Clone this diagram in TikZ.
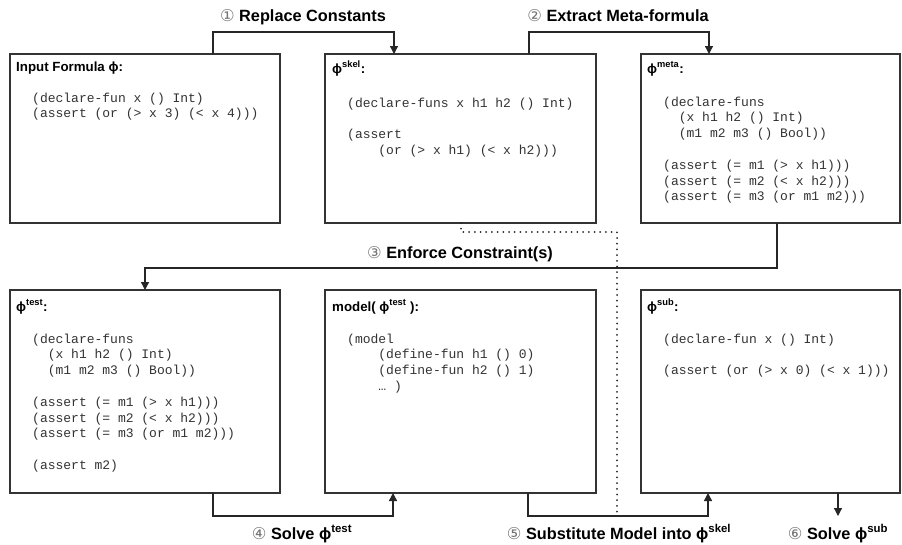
\documentclass[tikz,border=0pt]{standalone}
\usepackage{fontspec}
\setmainfont{Liberation Sans}
\newfontfamily\codefont{Liberation Mono}
\newfontfamily\circfont{DejaVu Sans}
\usetikzlibrary{arrows.meta}
\newcommand{\circnum}[1]{{\circfont\mdseries\color{black!55}#1}}
\newcommand{\supr}[1]{\textsuperscript{#1}}
\newcommand{\spc}[1]{\hphantom{#1}}
\newcommand{\cblock}[1]{\begin{tabular}[t]{@{}l@{}}#1\end{tabular}}
\tikzset{
  box/.style={draw=black!80, line width=1.6pt, anchor=north west, inner sep=0pt, outer sep=0pt},
  head/.style={anchor=base west, inner sep=0pt, font=\bfseries\fontsize{13.3}{16}\selectfont},
  code/.style={anchor=base west, inner sep=0pt, text=black!80, font=\codefont\fontsize{13}{15.8}\selectfont},
  lab/.style={anchor=base, inner sep=0pt, font=\bfseries\fontsize{16.3}{19}\selectfont},
  conn/.style={draw=black!85, line width=1.3pt},
  arr/.style={conn, -{Triangle[length=8pt,width=8pt]}},
  dotline/.style={draw=black!85, line width=2pt, line cap=round, dash pattern=on 0pt off 5.7pt},
}
\begin{document}
\begin{tikzpicture}[x=1pt, y=-1pt]
\fill[white] (0,0) rectangle (902,544);
\useasboundingbox (0,0) rectangle (902,544);

% boxes
\node[box, minimum width=270pt, minimum height=169pt] (in) at (10,54) {};
\node[box, minimum width=271pt, minimum height=169pt] (skel) at (325,54) {};
\node[box, minimum width=259pt, minimum height=169pt] (meta) at (641,54) {};
\node[box, minimum width=270pt, minimum height=203pt] (test) at (10,290) {};
\node[box, minimum width=271pt, minimum height=203pt] (model) at (325,290) {};
\node[box, minimum width=259pt, minimum height=203pt] (sub) at (641,290) {};

% headings
\node[head] (hin) at (16,71) {Input Formula ϕ:};
\node[head] (hskel) at (332,73) {ϕ\supr{skel}:};
\node[head] (hmeta) at (647,73) {ϕ\supr{meta}:};
\node[head] (htest) at (16,311) {ϕ\supr{test}:};
\node[head] (hmodel) at (332,311) {model( ϕ\supr{test} ):};
\node[head] (hsub) at (647,311) {ϕ\supr{sub}:};

% code
\node[code] (cin) at (32,102) {\cblock{(declare-fun x () Int)\\
(assert (or (> x 3) (< x 4)))}};
\node[code] (cskel) at (347,107) {\cblock{(declare-funs x h1 h2 () Int)\\[15.8pt]
(assert\\
\spc{xxxx}(or (> x h1) (< x h2)))}};
\node[code] (cmeta) at (663,106) {\cblock{(declare-funs\\
\spc{xx}(x h1 h2 () Int)\\
\spc{xx}(m1 m2 m3 () Bool))\\[15.8pt]
(assert (= m1 (> x h1)))\\
(assert (= m2 (< x h2)))\\
(assert (= m3 (or m1 m2)))}};
\node[code] (ctest) at (32,343) {\cblock{(declare-funs\\
\spc{xx}(x h1 h2 () Int)\\
\spc{xx}(m1 m2 m3 () Bool))\\[15.8pt]
(assert (= m1 (> x h1)))\\
(assert (= m2 (< x h2)))\\
(assert (= m3 (or m1 m2)))\\[15.8pt]
(assert m2)}};
\node[code] (cmodel) at (347,343) {\cblock{(model\\
\spc{xxxx}(define-fun h1 () 0)\\
\spc{xxxx}(define-fun h2 () 1)\\
\spc{xxxx}… )}};
\node[code] (csub) at (663,343) {\cblock{(declare-fun x () Int)\\[15.8pt]
(assert (or (> x 0) (< x 1)))}};

% connectors
\draw[arr] ([xshift=203pt]in.north west) -- ++(0,-22) -| ([xshift=69pt]skel.north west);
\draw[arr] ([xshift=204pt]skel.north west) -- ++(0,-22) -| ([xshift=68pt]meta.north west);
\draw[arr] ([xshift=136pt]meta.south west) -- ++(0,45) -| ([xshift=135pt]test.north west);
\draw[arr] ([xshift=203pt]test.south west) -- ++(0,23) -| ([xshift=68pt]model.south west);
\draw[arr] ([xshift=203pt]model.south west) -- ++(0,23) -| ([xshift=67pt]sub.south west);
\coordinate (end6) at (838,516);
\draw[arr] ([xshift=197pt]sub.south west) -- (end6);
\coordinate (d5) at (617,516);
\draw[dotline] ([xshift=136pt]skel.south west) -- ++(0,9) -| (d5);

% labels
\node[lab] (l1) at (303,21) {\circnum{①} Replace Constants};
\node[lab] (l2) at (618,21) {\circnum{②} Extract Meta-formula};
\node[lab] (l3) at (460,258) {\circnum{③} Enforce Constraint(s)};
\node[lab] (l4) at (302,539) {\circnum{④} Solve ϕ\supr{test}};
\node[lab] (l5) at (619,539) {\circnum{⑤} Substitute Model into ϕ\supr{skel}};
\node[lab] (l6) at (838,539) {\circnum{⑥} Solve ϕ\supr{sub}};
\end{tikzpicture}
\end{document}
